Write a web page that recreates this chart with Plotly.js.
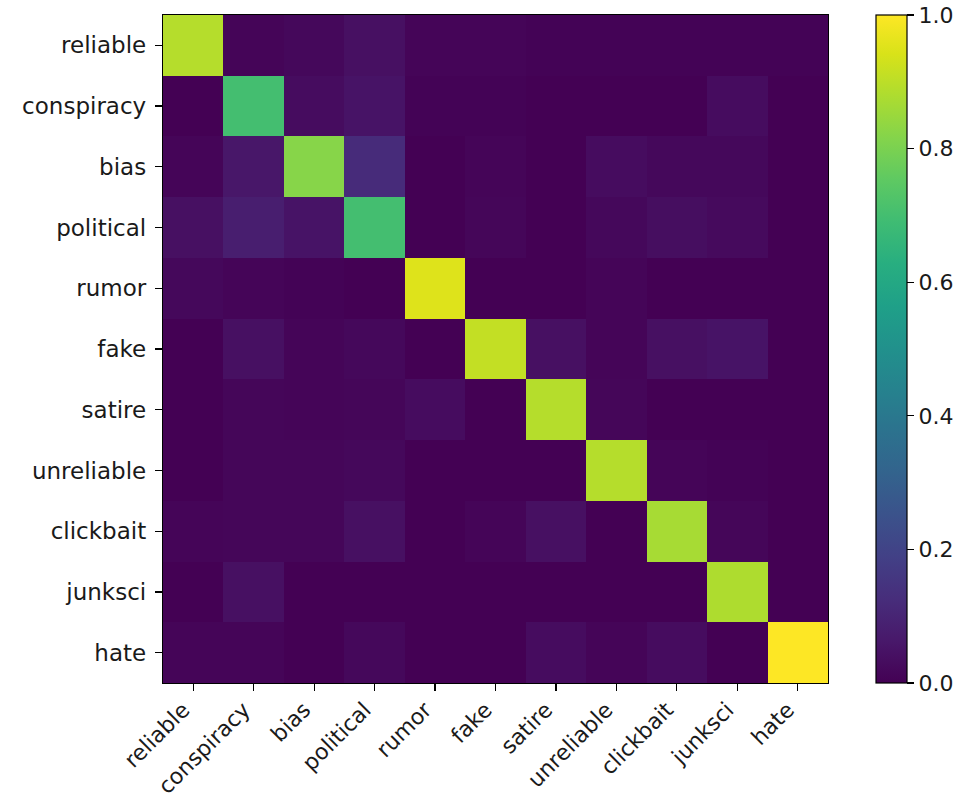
<!DOCTYPE html>
<html>
<head>
<meta charset="utf-8">
<script src="https://cdn.plot.ly/plotly-3.0.1.min.js"></script>
<style>html,body{margin:0;padding:0;background:#fff;}#chart{width:968px;height:805px;}</style>
</head>
<body>
<div id="chart"></div>
<script>
const labels = ["reliable","conspiracy","bias","political","rumor","fake","satire","unreliable","clickbait","junksci","hate"];

const rowReliable   = [0.89, 0.01, 0.02, 0.04, 0.01, 0.01, 0.005, 0.005, 0.005, 0.005, 0.005];
const rowConspiracy = [0.0, 0.70, 0.03, 0.05, 0.005, 0.005, 0.0, 0.0, 0.0, 0.03, 0.0];
const rowBias       = [0.01, 0.06, 0.82, 0.12, 0.0, 0.01, 0.0, 0.03, 0.02, 0.02, 0.0];
const rowPolitical  = [0.04, 0.08, 0.05, 0.70, 0.0, 0.015, 0.0, 0.02, 0.035, 0.025, 0.0];
const rowRumor      = [0.02, 0.01, 0.005, 0.0, 0.95, 0.0, 0.0, 0.01, 0.0, 0.0, 0.0];
const rowFake       = [0.0, 0.04, 0.01, 0.02, 0.0, 0.91, 0.04, 0.01, 0.04, 0.05, 0.0];
const rowSatire     = [0.0, 0.015, 0.01, 0.015, 0.03, 0.0, 0.89, 0.015, 0.0, 0.0, 0.0];
const rowUnreliable = [0.0, 0.015, 0.015, 0.02, 0.0, 0.0, 0.0, 0.89, 0.01, 0.005, 0.0];
const rowClickbait  = [0.01, 0.015, 0.015, 0.04, 0.0, 0.01, 0.04, 0.0, 0.87, 0.015, 0.0];
const rowJunksci    = [0.0, 0.04, 0.0, 0.0, 0.0, 0.0, 0.0, 0.0, 0.0, 0.88, 0.0];
const rowHate       = [0.01, 0.01, 0.0, 0.02, 0.0, 0.0, 0.03, 0.01, 0.03, 0.0, 1.0];

const zValues = [rowReliable,rowConspiracy,rowBias,rowPolitical,rowRumor,rowFake,rowSatire,rowUnreliable,rowClickbait,rowJunksci,rowHate];
const cbTicks = [0.0,0.2,0.4,0.6,0.8,1.0];
const cbTickText = ["0.0","0.2","0.4","0.6","0.8","1.0"];

const font = {family:"DejaVu Sans, sans-serif", size:23, color:"#1a1a1a"};
const xFont = {family:"DejaVu Sans, sans-serif", size:22, color:"#1a1a1a"};
const cbFont = {family:"DejaVu Sans, sans-serif", size:22, color:"#1a1a1a"};

Plotly.newPlot("chart", [{
  type:"heatmap",
  z: zValues,
  x: labels,
  y: labels,
  zmin:0, zmax:1,
  colorscale:"Viridis",
  xgap:0, ygap:0,
  colorbar:{
    x:1.072, xanchor:"left", xref:"paper", xpad:0,
    y:0.5, yanchor:"middle", ypad:0,
    len:1, lenmode:"fraction",
    thickness:31, thicknessmode:"pixels",
    outlinewidth:1.2, outlinecolor:"#000",
    ticks:"outside", ticklen:7, tickwidth:1.2, tickcolor:"#000",
    tickvals:cbTicks, ticktext:cbTickText,
    ticklabelstandoff:3,
    tickfont:cbFont
  }
}], {
  width:968, height:805,
  margin:{l:163, r:140, t:15, b:122},
  paper_bgcolor:"#fff", plot_bgcolor:"#fff",
  font:font,
  xaxis:{
    type:"category",
    tickangle:-45,
    ticks:"outside", ticklen:7, tickwidth:1.2, tickcolor:"#000",
    showline:true, linecolor:"#000", linewidth:1.2, mirror:true,
    showgrid:false, zeroline:false,
    ticklabelstandoff:-3,
    ticklabelshift:-10,
    tickfont:xFont
  },
  yaxis:{
    type:"category",
    autorange:"reversed",
    ticks:"outside", ticklen:7, tickwidth:1.2, tickcolor:"#000",
    showline:true, linecolor:"#000", linewidth:1.2, mirror:true,
    showgrid:false, zeroline:false,
    ticklabelstandoff:4,
    tickfont:font
  }
}, {displayModeBar:false, staticPlot:true});
</script>
</body>
</html>
